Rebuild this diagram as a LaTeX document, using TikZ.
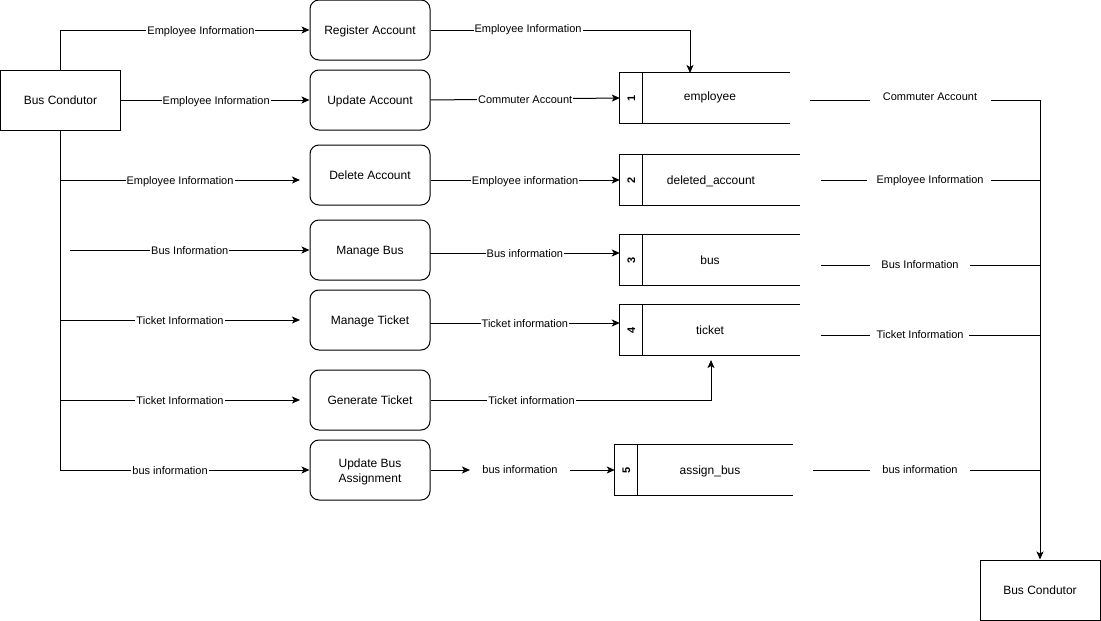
\documentclass[tikz,border=0pt]{standalone}
\usepackage{fontspec}
\setmainfont{Liberation Sans}
\usetikzlibrary{arrows.meta,calc}
\begin{document}
\begin{tikzpicture}[x=1pt,y=-1pt,
  every node/.style={font=\fontsize{12}{14}\selectfont},
  big/.style={font=\fontsize{12}{14}\selectfont, text height=8.6pt, text depth=0pt},
  ext/.style={big, draw, line width=1pt, minimum width=120pt, minimum height=60pt, inner sep=0},
  proc/.style={draw, line width=1pt, rounded corners=9pt, minimum width=120pt, minimum height=60pt, align=center, inner sep=0, font=\fontsize{12}{15}\selectfont},
  store/.style={minimum height=50pt, inner sep=0},
  lbl/.style={fill=white, inner sep=1pt, font=\fontsize{11}{13}\selectfont, text height=7.9pt, text depth=0pt, yshift=-0.5pt},
  txt/.style={inner sep=1pt, font=\fontsize{11}{13}\selectfont, text height=7.9pt, text depth=0pt},
  flow/.style={line width=1pt, -{Stealth[length=8pt,width=7pt,inset=2pt]}},
  plain/.style={line width=1pt},
  num/.style={rotate=90, font=\bfseries\fontsize{11}{13}\selectfont, inner sep=0}
]
\useasboundingbox (0,0) rectangle (1101,621);

% external entities
\node[ext] (bc1) at (60.5,100) {Bus Condutor};
\node[ext] (bc2) at (1040,590) {Bus Condutor};

% processes
\node[proc, text height=8.6pt, text depth=0pt] (reg)   at (370,30)  {Register Account};
\node[proc, text height=8.6pt, text depth=0pt] (upd)   at (370,100) {Update Account};
\node[proc, text height=8.6pt, text depth=0pt] (del)   at (370,175) {Delete Account};
\node[proc, text height=8.6pt, text depth=0pt] (mbus)  at (370,250) {Manage Bus};
\node[proc, text height=8.6pt, text depth=0pt] (mtick) at (370,320) {Manage Ticket};
\node[proc, text height=8.6pt, text depth=0pt] (gen)   at (370,400) {Generate Ticket};
\node[proc, text height=24pt, text depth=0pt] (uba)   at (370,470) {Update Bus\\Assignment};

% data stores
\node[store, minimum width=170pt] (emp) at (705,98) {};
\node[store, minimum width=180pt] (dacc) at (710,180) {};
\node[store, minimum width=180pt] (busst) at (710,260) {};
\node[store, minimum width=180pt] (tick) at (710,330) {};
\node[store, minimum width=178pt] (asb) at (704,470) {};
\foreach \s/\n in {emp/1,dacc/2,busst/3,tick/4,asb/5}{
  \draw[plain] (\s.north east) -- (\s.north west) -- (\s.south west) -- (\s.south east);
  \draw[plain] ($(\s.north west)+(23,0)$) -- ($(\s.south west)+(23,0)$);
  \node[num] (n\s) at ($(\s.west)+(11.5,0)$) {\n};
}
\node[big] (lemp) at (710,96) {employee};
\node[big] (ldacc) at (711,180) {deleted\_account};
\node[big] (lbus) at (710,260) {bus};
\node[big] (ltick) at (710,330) {ticket};
\node[big] (lasb) at (710,470) {assign\_bus};

% coordinates for free ends
\coordinate (s4) at (60,180);  \coordinate (e4) at (300,180);
\coordinate (s5) at (70,250);
\coordinate (s6) at (60,320);  \coordinate (e6) at (300,320);
\coordinate (s7) at (60,400);  \coordinate (e7) at (300,400);
\coordinate (empin) at (690,73);
\coordinate (a11) at (430,253);
\coordinate (a12) at (430,323);
\coordinate (tickin) at (711,360);
\coordinate (m14) at (470,470);
\coordinate (m14b) at (570,470);

% left flows
\draw[flow] (bc1.north) |- node[lbl,pos=0.782] {Employee Information} (reg.west);
\draw[flow] (bc1.east) -- node[lbl,pos=0.505] {Employee Information} (upd.west);
\draw[flow] (bc1.south) |- node[lbl,pos=0.72] {bus information} (uba.west);
\draw[flow] (s4) -- node[lbl] {Employee Information} (e4);
\draw[flow] (s5) -- node[lbl] {Bus Information} (mbus.west);
\draw[flow] (s6) -- node[lbl] {Ticket Information} (e6);
\draw[flow] (s7) -- node[lbl] {Ticket Information} (e7);

% process to store flows
\draw[flow] (reg.east) -| node[lbl,pos=0.188,yshift=2pt] {Employee Information} (empin);
\draw[flow] (upd.east) -- node[lbl] {Commuter Account} (emp.west);
\draw[flow] (del.east |- dacc.west) -- node[lbl] {Employee information} (dacc.west);
\draw[flow] (a11) -- node[lbl] {Bus information} (busst.west |- a11);
\draw[flow] (a12) -- node[lbl] {Ticket information} (tick.west |- a12);
\draw[flow] (gen.east) -| node[lbl,pos=0.18] {Ticket information} (tickin);
\draw[flow] (uba.east) -- (m14);
\node[txt] (bi) at (520,470) {bus information};
\draw[flow] (m14b) -- (asb.west);

% right side
\node[txt] (r1) at (930,97)  {Commuter Account};
\node[txt] (r2) at (930,180) {Employee Information};
\node[txt] (r3) at (920,265) {Bus Information};
\node[txt] (r4) at (920,335) {Ticket Information};
\node[txt] (r5) at (920,470) {bus information};
\draw[plain] (810,100) -- (870,100);
\draw[plain] (821,180) -- (867,180);
\draw[plain] (821,265) -- (870,265);
\draw[plain] (821,335) -- (870,335);
\draw[plain] (813,470) -- (870,470);
\draw[plain] (991,100) -- (1040,100);
\draw[plain] (991,180) -- (1040,180);
\draw[plain] (970,265) -- (1040,265);
\draw[plain] (969,335) -- (1040,335);
\draw[plain] (970,470) -- (1040,470);
\coordinate (vtop) at (1040,99.5);
\draw[flow] (vtop) -- (bc2.north);
\end{tikzpicture}
\end{document}
